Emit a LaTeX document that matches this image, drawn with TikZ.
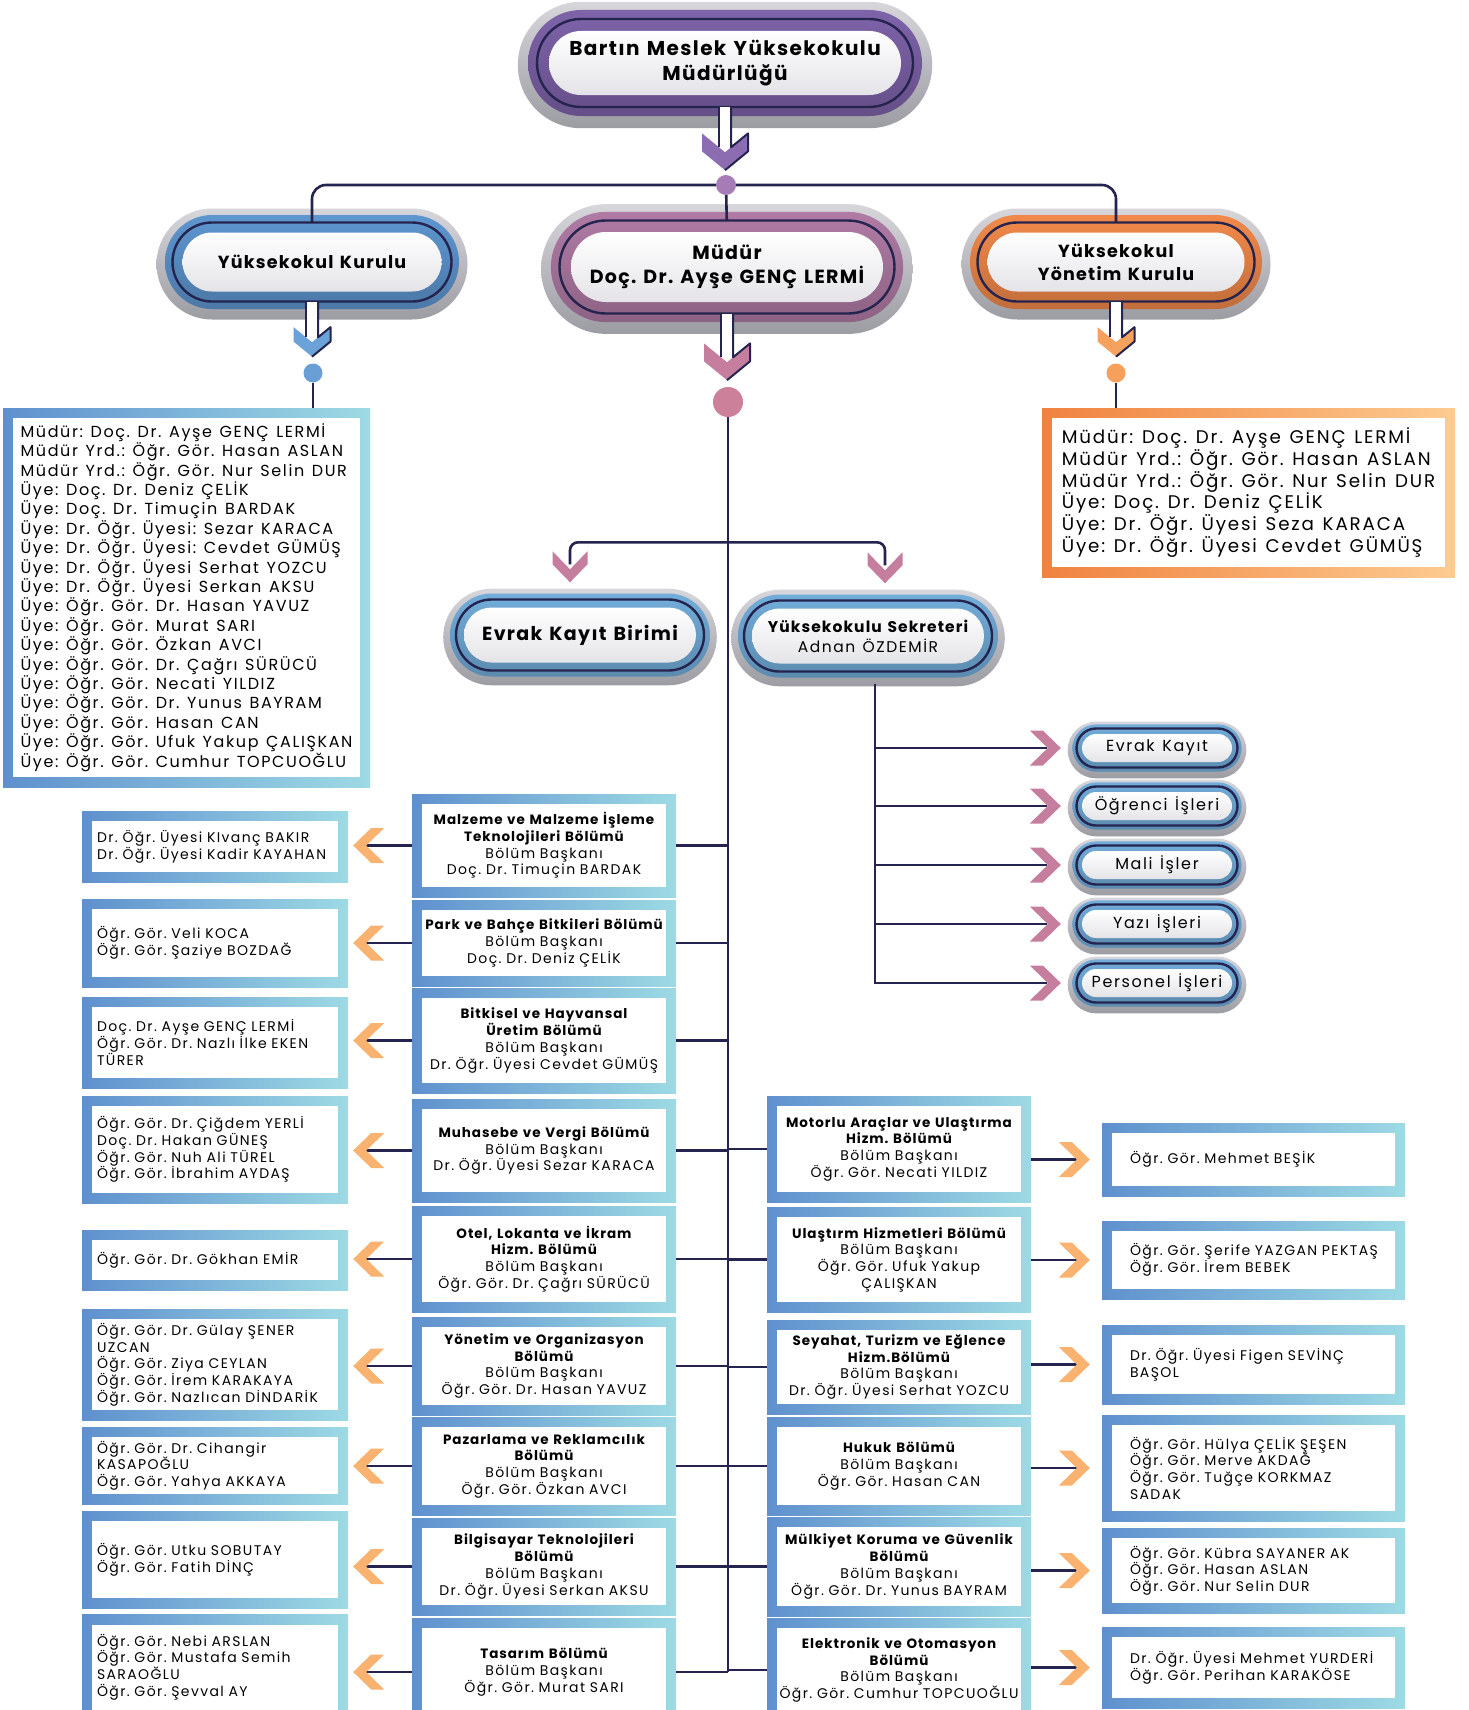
\documentclass[tikz,border=0pt]{standalone}
\usepackage{fontspec}
\setmainfont{Poppins}[LetterSpace=10, WordSpace=1.3, BoldFeatures={LetterSpace=7}]
\usepackage{tikz}
\usetikzlibrary{shapes.misc,positioning,calc}
\pgfdeclarelayer{background}
\pgfsetlayers{background,main}

\definecolor{navy}{HTML}{25244F}
\definecolor{ringP}{HTML}{7E63A9}
\definecolor{ringM}{HTML}{B07BA5}
\definecolor{ringB}{HTML}{5E96D0}
\definecolor{ringO}{HTML}{F2894A}
\definecolor{ringL}{HTML}{72ADDA}
\definecolor{haloL}{HTML}{D6D6DB}
\definecolor{haloD}{HTML}{9C9CA3}
\definecolor{coreD}{HTML}{E4E4E8}
\definecolor{boxL}{HTML}{5F90CE}
\definecolor{boxR}{HTML}{9DDAE4}
\definecolor{listL}{HTML}{F0823F}
\definecolor{listR}{HTML}{FDCB90}
\definecolor{chevP}{HTML}{C67E9F}
\definecolor{chevO}{HTML}{F9B26F}
\definecolor{chevB}{HTML}{6BA2D8}
\definecolor{chevY}{HTML}{F6A25E}
\definecolor{chevV}{HTML}{8C6DB2}
\definecolor{dotP}{HTML}{A57CB6}
\definecolor{dotK}{HTML}{CC8099}
\definecolor{dotB}{HTML}{6A9FD6}
\definecolor{dotO}{HTML}{F6A05C}

\newcommand{\bx}{\fontsize{14}{16.7}\selectfont}
\newcommand{\hd}[1]{{\fontsize{13.5}{16.7}\selectfont\bfseries #1}}
\newcommand{\lst}{\fontsize{16}{19.4}\selectfont}
\newcommand{\lstb}{\fontsize{18.3}{20.4}\selectfont}

\tikzstyle{conn}=[draw=navy, line width=2.6]
\tikzstyle{dot}=[circle, inner sep=0]
\tikzstyle{pillcore}=[rounded rectangle, inner sep=0, top color=white, bottom color=coreD, align=center]
\tikzstyle{pillhalo}=[rounded rectangle, inner sep=0, top color=haloL, bottom color=haloD]
\tikzstyle{pillring}=[rounded rectangle, inner sep=0]
\tikzstyle{pillline}=[rounded rectangle, inner sep=0, draw=navy, line width=2.4]
\tikzstyle{frame}=[rectangle, inner ysep=0, left color=boxL, right color=boxR, path picture={\fill[white] ([shift={(10,10)}]path picture bounding box.north west) rectangle ([shift={(-10,-10)}]path picture bounding box.south east);}]
\tikzstyle{lbox}=[frame, inner xsep=15, text width=236, align=left, font=\bx]
\tikzstyle{mbox}=[frame, inner xsep=4, text width=256, align=center, font=\bx]
\tikzstyle{rbox}=[frame, inner xsep=28, text width=247, align=left, font=\bx]
\tikzstyle{listbox}=[frame, inner xsep=0, align=left, font=\lst]

% name, at, width, height, ring colour, gap, font, text
\newcommand{\pill}[8]{
 \node[pillcore, font=\bfseries#7, minimum width=#3, minimum height=#4] (#1) at #2 {#8};
 \begin{pgfonlayer}{background}
  \node[pillhalo, minimum width=#3+2.6*#6, minimum height=#4+2.6*#6] at ([yshift=-2]#1.center) {};
  \node[pillring, top color=#5, bottom color=#5!80!black, minimum width=#3+1.75*#6, minimum height=#4+1.75*#6] at (#1.center) {};
  \node[pillline, minimum width=#3+#6, minimum height=#4+#6] at (#1.center) {};
 \end{pgfonlayer}}

% pill, colour, line offset, tip offset, half width
\newcommand{\pillarrow}[5]{
 \begin{scope}[shift={(#1.south)}]
  \fill[white] (-6,#3) rectangle (6,#4-0.9*#5);
  \fill[#2] (-#5,#4-1.6*#5) -- (0,#4-0.78*#5) -- (#5,#4-1.6*#5) -- (#5,#4-0.82*#5) -- (0,#4) -- (-#5,#4-0.82*#5) -- cycle;
  \draw[navy, line width=2] (-6,#3) -- (-6,#4-0.78*#5-4.9);
  \draw[navy, line width=2, line join=round] (6,#3) -- (6,#4-0.78*#5-4.9) -- (#5,#4-1.6*#5) -- (#5,#4-0.82*#5) -- (0,#4);
 \end{scope}}

% tip, angle, colour
\newcommand{\chev}[3]{
 \fill[#3, shift={#1}, rotate=#2] (-31,-17.5) -- (-18,-17.5) -- (0,0) -- (-18,17.5) -- (-31,17.5) -- (-13,0) -- cycle;}

\begin{document}
\frenchspacing
\begin{tikzpicture}[x=1pt, y=-1pt]
\useasboundingbox (0,0) rectangle (1468,1710);
\begin{pgfonlayer}{background}
 \fill[white] (0,0) rectangle (1468,1710);
\end{pgfonlayer}

% head of the school
\pill{top}{(725,63)}{352}{64}{ringP}{24}{\fontsize{20}{25}\selectfont}{Bartın Meslek Yüksekokulu\\Müdürlüğü}
\pill{mudur}{(727,267)}{312}{70}{ringM}{23}{\fontsize{19}{24}\selectfont}{Müdür\\Doç. Dr. Ayşe GENÇ LERMİ}
\pill{kurul}{(312,262)}{259}{59}{ringB}{20}{\fontsize{17.5}{23}\selectfont}{Yüksekokul Kurulu}
\pill{yon}{(1116,262)}{257}{59}{ringO}{20}{\fontsize{17.5}{23}\selectfont}{Yüksekokul\\Yönetim Kurulu}

\pillarrow{top}{chevV}{12}{75}{23}
\pillarrow{mudur}{chevP}{11.5}{78}{23}
\pillarrow{kurul}{chevB}{10}{65}{18.5}
\pillarrow{yon}{chevY}{10}{65}{18.5}

\node[dot, fill=dotP, minimum size=20] (d0) at (726,185) {};
\node[dot, fill=dotK, minimum size=30] (pk) at (728,402) {};
\node[dot, fill=dotB, minimum size=19] (db) at (313,373) {};
\node[dot, fill=dotO, minimum size=19] (do) at (1116,373) {};

\draw[conn, rounded corners=14, shorten >=10] (d0) -| (kurul.north);
\draw[conn, rounded corners=14, shorten >=10] (d0) -| (yon.north);
\draw[conn, shorten >=12] (d0) -- (mudur.north);

% councils
\node[listbox, minimum width=367, minimum height=379] (l0) at (186.5,597.5) {Müdür: Doç. Dr. Ayşe GENÇ LERMİ\\
Müdür Yrd.: Öğr. Gör. Hasan ASLAN\\
Müdür Yrd.: Öğr. Gör. Nur Selin DUR\\
Üye: Doç. Dr. Deniz ÇELİK\\
Üye: Doç. Dr. Timuçin BARDAK\\
Üye: Dr. Öğr. Üyesi: Sezar KARACA\\
Üye: Dr. Öğr. Üyesi: Cevdet GÜMÜŞ\\
Üye: Dr. Öğr. Üyesi Serhat YOZCU\\
Üye: Dr. Öğr. Üyesi Serkan AKSU\\
Üye: Öğr. Gör. Dr. Hasan YAVUZ\\
Üye: Öğr. Gör. Murat SARI\\
Üye: Öğr. Gör. Özkan AVCI\\
Üye: Öğr. Gör. Dr. Çağrı SÜRÜCÜ\\
Üye: Öğr. Gör. Necati YILDIZ\\
Üye: Öğr. Gör. Dr. Yunus BAYRAM\\
Üye: Öğr. Gör. Hasan CAN\\
Üye: Öğr. Gör. Ufuk Yakup ÇALIŞKAN\\
Üye: Öğr. Gör. Cumhur TOPCUOĞLU};
\node[listbox, left color=listL, right color=listR, font=\lstb, minimum width=413, minimum height=169] (r0) at (1248.5,492.5) {Müdür: Doç. Dr. Ayşe GENÇ LERMİ\\
Müdür Yrd.: Öğr. Gör. Hasan ASLAN\\
Müdür Yrd.: Öğr. Gör. Nur Selin DUR\\
Üye: Doç. Dr. Deniz ÇELİK\\
Üye: Dr. Öğr. Üyesi Seza KARACA\\
Üye: Dr. Öğr. Üyesi Cevdet GÜMÜŞ};
\draw[conn] (db) -- (db |- l0.north);
\draw[conn] (do) -- (do |- r0.north);

% secretary and registry
\pill{evrak}{(580,635)}{232}{55}{ringL}{16}{\fontsize{19}{22}\selectfont}{Evrak Kayıt Birimi}
\pill{sekr}{(868,636)}{232}{55}{ringL}{16}{\fontsize{15.5}{20}\selectfont}{Yüksekokulu Sekreteri\\\mdseries Adnan ÖZDEMİR}
\coordinate (evin) at ([xshift=-10,yshift=43]evrak.north);
\coordinate (skin) at ([xshift=17,yshift=43]sekr.north);
\draw[conn, rounded corners=8] (evin) -- ++(0,-22) -| (skin);
\chev{([xshift=-10,yshift=25]evrak.north)}{-90}{chevP}
\chev{([xshift=17,yshift=25]sekr.north)}{-90}{chevP}

\pill{t1}{(1157,748)}{150}{28}{ringL}{11}{\mdseries\fontsize{16}{18}\selectfont}{Evrak Kayıt}
\pill{t2}{(1157,806)}{150}{28}{ringL}{11}{\mdseries\fontsize{16}{18}\selectfont}{Öğrenci İşleri}
\pill{t3}{(1157,865)}{150}{28}{ringL}{11}{\mdseries\fontsize{16}{18}\selectfont}{Mali İşler}
\pill{t4}{(1157,924)}{150}{28}{ringL}{11}{\mdseries\fontsize{16}{18}\selectfont}{Yazı İşleri}
\pill{t5}{(1157,983)}{150}{28}{ringL}{11}{\mdseries\fontsize{16}{18}\selectfont}{Personel İşleri}
\foreach \t in {t1,t2,t3,t4,t5}{
 \draw[conn, shorten <=20, shorten >=35] ([xshift=7]sekr.south) |- (\t.west);
 \chev{([xshift=-21]\t.west)}{0}{chevP}
}

% departments
\node[mbox, minimum height=103] (m1) at (544,845.5) {\hd{Malzeme ve Malzeme İşleme}\\\hd{Teknolojileri Bölümü}\\Bölüm Başkanı\\Doç. Dr. Timuçin BARDAK};
\node[mbox, minimum height=86] (m2) at (544,943) {\hd{Park ve Bahçe Bitkileri Bölümü}\\Bölüm Başkanı\\Doç. Dr. Deniz ÇELİK};
\node[mbox, minimum height=105] (m3) at (544,1040.5) {\hd{Bitkisel ve Hayvansal}\\\hd{Üretim Bölümü}\\Bölüm Başkanı\\Dr. Öğr. Üyesi Cevdet GÜMÜŞ};
\node[mbox, minimum height=103] (m4) at (544,1150.5) {\hd{Muhasebe ve Vergi Bölümü}\\Bölüm Başkanı\\Dr. Öğr. Üyesi Sezar KARACA};
\node[mbox, minimum height=106] (m5) at (544,1259) {\hd{Otel, Lokanta ve İkram}\\\hd{Hizm. Bölümü}\\Bölüm Başkanı\\Öğr. Gör. Dr. Çağrı SÜRÜCÜ};
\node[mbox, minimum height=98] (m6) at (544,1366) {\hd{Yönetim ve Organizasyon}\\\hd{Bölümü}\\Bölüm Başkanı\\Öğr. Gör. Dr. Hasan YAVUZ};
\node[mbox, minimum height=98] (m7) at (544,1466) {\hd{Pazarlama ve Reklamcılık}\\\hd{Bölümü}\\Bölüm Başkanı\\Öğr. Gör. Özkan AVCI};
\node[mbox, minimum height=97] (m8) at (544,1566.5) {\hd{Bilgisayar Teknolojileri}\\\hd{Bölümü}\\Bölüm Başkanı\\Dr. Öğr. Üyesi Serkan AKSU};
\node[mbox, minimum height=108] (m9) at (544,1672) {\hd{Tasarım Bölümü}\\Bölüm Başkanı\\Öğr. Gör. Murat SARI};

\node[mbox, minimum height=106] (r1) at (899,1149) {\hd{Motorlu Araçlar ve Ulaştırma}\\\hd{Hizm. Bölümü}\\Bölüm Başkanı\\Öğr. Gör. Necati YILDIZ};
\node[mbox, minimum height=105] (r2) at (899,1259.5) {\hd{Ulaştırm Hizmetleri Bölümü}\\Bölüm Başkanı\\Öğr. Gör. Ufuk Yakup\\ÇALIŞKAN};
\node[mbox, minimum height=94] (r3) at (899,1367) {\hd{Seyahat, Turizm ve Eğlence}\\\hd{Hizm.Bölümü}\\Bölüm Başkanı\\Dr. Öğr. Üyesi Serhat YOZCU};
\node[mbox, minimum height=98] (r4) at (899,1466) {\hd{Hukuk Bölümü}\\Bölüm Başkanı\\Öğr. Gör. Hasan CAN};
\node[mbox, minimum height=99] (r5) at (899,1566.5) {\hd{Mülkiyet Koruma ve Güvenlik}\\\hd{Bölümü}\\Bölüm Başkanı\\Öğr. Gör. Dr. Yunus BAYRAM};
\node[mbox, minimum height=104] (r6) at (899,1670) {\hd{Elektronik ve Otomasyon}\\\hd{Bölümü}\\Bölüm Başkanı\\Öğr. Gör. Cumhur TOPCUOĞLU};

% staff of the departments
\node[lbox, minimum height=71] (l1) at (215,846.5) {Dr.~Öğr.~Üyesi~KIvanç~BAKIR\\Dr.~Öğr.~Üyesi~Kadir~KAYAHAN};
\node[lbox, minimum height=88] (l2) at (215,943) {Öğr. Gör. Veli KOCA\\Öğr. Gör. Şaziye BOZDAĞ};
\node[lbox, minimum height=91] (l3) at (215,1042.5) {Doç. Dr. Ayşe GENÇ LERMİ\\Öğr.~Gör.~Dr.~Nazlı~İlke~EKEN\\TÜRER};
\node[lbox, minimum height=107] (l4) at (215,1149.5) {Öğr. Gör. Dr. Çiğdem YERLİ\\Doç. Dr. Hakan GÜNEŞ\\Öğr. Gör. Nuh Ali TÜREL\\Öğr. Gör. İbrahim AYDAŞ};
\node[lbox, minimum height=60] (l5) at (215,1260) {Öğr. Gör. Dr. Gökhan EMİR};
\node[lbox, minimum height=111] (l6) at (215,1364.5) {Öğr. Gör. Dr. Gülay ŞENER\\UZCAN\\Öğr. Gör. Ziya CEYLAN\\Öğr. Gör. İrem KARAKAYA\\Öğr.~Gör.~Nazlıcan~DİNDARİK};
\node[lbox, minimum height=77] (l7) at (215,1465.5) {Öğr. Gör. Dr. Cihangir\\KASAPOĞLU\\Öğr. Gör. Yahya AKKAYA};
\node[lbox, minimum height=97] (l8) at (215,1559.5) {Öğr. Gör. Utku SOBUTAY\\Öğr. Gör. Fatih DİNÇ};
\node[lbox, minimum height=105] (l9) at (215,1667) {Öğr. Gör. Nebi ARSLAN\\Öğr.~Gör.~Mustafa~Semih\\SARAOĞLU\\Öğr. Gör. Şevval AY};

\node[rbox, minimum height=73] (rr1) at (1253.5,1159.5) {Öğr. Gör. Mehmet BEŞİK};
\node[rbox, minimum height=78] (rr2) at (1253.5,1260) {Öğr.~Gör.~Şerife~YAZGAN~PEKTAŞ\\Öğr. Gör. İrem BEBEK};
\node[rbox, minimum height=79] (rr3) at (1253.5,1364.5) {Dr.~Öğr.~Üyesi~Figen~SEVİNÇ\\BAŞOL};
\node[rbox, minimum height=106] (rr4) at (1253.5,1468) {Öğr.~Gör.~Hülya~ÇELİK~ŞEŞEN\\Öğr. Gör. Merve AKDAĞ\\Öğr.~Gör.~Tuğçe~KORKMAZ\\SADAK};
\node[rbox, minimum height=85] (rr5) at (1253.5,1570.5) {Öğr.~Gör.~Kübra~SAYANER~AK\\Öğr. Gör. Hasan ASLAN\\Öğr. Gör. Nur Selin DUR};
\node[rbox, minimum height=81] (rr6) at (1253.5,1667.5) {Dr.~Öğr.~Üyesi~Mehmet~YURDERİ\\Öğr. Gör. Perihan KARAKÖSE};

% trunk and branches
\draw[conn] (pk) -- (pk |- m9.east);
\foreach \i in {1,...,9}{
 \draw[conn] (m\i.east) -- (m\i.east -| pk);
 \draw[conn, shorten >=18] (m\i.west) -- (m\i.west -| l\i.east);
 \chev{([xshift=5]m\i.west -| l\i.east)}{180}{chevO}
}
\foreach \i in {1,...,6}{
 \draw[conn] (r\i.west) -- (r\i.west -| pk);
 \draw[conn, shorten >=25] (r\i.east |- rr\i.west) -- (rr\i.west);
 \chev{([xshift=-12]rr\i.west)}{0}{chevO}
}

\end{tikzpicture}
\end{document}
